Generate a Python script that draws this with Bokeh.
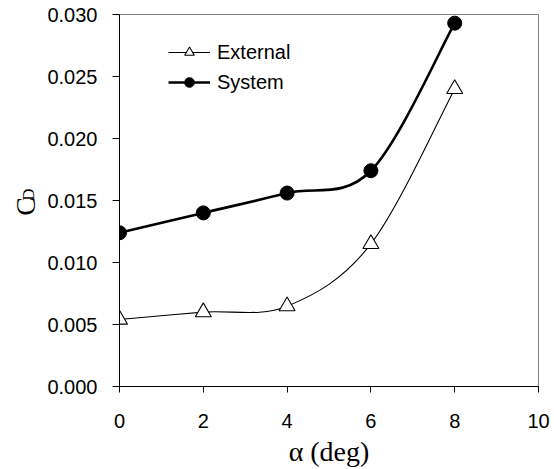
import math
from bokeh.plotting import figure
from bokeh.layouts import row
from bokeh.core.properties import value
from bokeh.models import (FixedTicker, NumeralTickFormatter, Legend, LegendItem,
                          Range1d)
from bokeh.embed import file_html
from bokeh.resources import INLINE

# ---- data ----
alpha = [0, 2, 4, 6, 8]
external_cd = [0.0054, 0.0060, 0.00648, 0.0115, 0.0240]
system_cd = [0.0124, 0.0140, 0.0156, 0.0174, 0.0293]
x_ticks = [0, 2, 4, 6, 8, 10]
y_ticks = [0.000, 0.005, 0.010, 0.015, 0.020, 0.025, 0.030]
series_names = ["External", "System"]
X_MAX, Y_MAX = 10, 0.030


def smooth_segments(xs, ys):
    """Bezier control points (Catmull-Rom style, like a spreadsheet's smoothed line)."""
    n = len(xs)
    out = dict(x0=[], y0=[], x1=[], y1=[], cx0=[], cy0=[], cx1=[], cy1=[])
    for i in range(n - 1):
        a = i - 1 if i > 0 else i
        d = i + 2 if i + 2 < n else i + 1
        out["x0"].append(xs[i]); out["y0"].append(ys[i])
        out["x1"].append(xs[i + 1]); out["y1"].append(ys[i + 1])
        out["cx0"].append(xs[i] + (xs[i + 1] - xs[a]) / 6.0)
        out["cy0"].append(ys[i] + (ys[i + 1] - ys[a]) / 6.0)
        out["cx1"].append(xs[i + 1] - (xs[d] - xs[i]) / 6.0)
        out["cy1"].append(ys[i + 1] - (ys[d] - ys[i]) / 6.0)
    return out


H = 469
LW = 40                      # strip that carries the y-axis title
W = 554 - LW
BL, BR, BT, BB = 119 - LW, 16, 14, 78

# ---- strip with the y-axis title (C with subscript D), pixel coordinates (y up) ----
lab = figure(width=LW, height=H, output_backend="svg", toolbar_location=None,
             title=None, x_range=Range1d(0, LW), y_range=Range1d(0, H),
             x_axis_type=None, y_axis_type=None,
             min_border_left=0, min_border_right=0, min_border_top=0, min_border_bottom=0)
lab.outline_line_color = None
lab.grid.visible = False
lab.background_fill_color = "white"
lab.border_fill_color = "white"
lab.text(x=[25.0], y=[H - 242.0], text=["C"], angle=math.pi / 2,
         text_align="center", text_baseline="middle",
         text_font=value("Liberation Serif"), text_font_size="28px", text_color="black")
lab.text(x=[27.5], y=[H - 227.0], text=["D"], angle=math.pi / 2,
         text_align="center", text_baseline="middle",
         text_font=value("Liberation Serif"), text_font_size="17px", text_color="black")

# ---- main chart ----
p = figure(width=W, height=H, output_backend="svg", toolbar_location=None,
           x_range=Range1d(0, X_MAX), y_range=Range1d(0, Y_MAX),
           min_border_left=BL, min_border_right=BR, min_border_top=BT,
           min_border_bottom=BB)
p.background_fill_color = "white"
p.border_fill_color = "white"
p.outline_line_color = "#808080"
p.outline_line_width = 1
p.xgrid.visible = False
p.ygrid.visible = False

p.xaxis.ticker = FixedTicker(ticks=x_ticks)
p.yaxis.ticker = FixedTicker(ticks=y_ticks)
p.yaxis.formatter = NumeralTickFormatter(format="0.000")
for ax in (p.xaxis[0], p.yaxis[0]):
    ax.axis_line_color = "black"
    ax.axis_line_width = 1
    ax.major_tick_line_color = "black"
    ax.major_tick_in = 0
    ax.minor_tick_line_color = None
    ax.major_label_text_font = "Liberation Sans"
    ax.major_label_text_font_size = "20px"
    ax.major_label_text_color = "black"
p.yaxis.major_tick_out = 7
p.xaxis.major_tick_out = 6
p.yaxis.major_label_standoff = 15
p.xaxis.major_label_standoff = 21
p.xaxis.axis_label = "α (deg)"
p.xaxis.axis_label_text_font = "Liberation Serif"
p.xaxis.axis_label_text_font_style = "normal"
p.xaxis.axis_label_text_font_size = "28px"
p.xaxis.axis_label_text_color = "black"
p.xaxis.axis_label_standoff = 5

# smoothed lines
ext_seg = smooth_segments(alpha, external_cd)
sys_seg = smooth_segments(alpha, system_cd)
ext_line = p.bezier(source=ext_seg, x0="x0", y0="y0", x1="x1", y1="y1",
                    cx0="cx0", cy0="cy0", cx1="cx1", cy1="cy1",
                    line_color="black", line_width=1.1)
sys_line = p.bezier(source=sys_seg, x0="x0", y0="y0", x1="x1", y1="y1",
                    cx0="cx0", cy0="cy0", cx1="cx1", cy1="cy1",
                    line_color="black", line_width=2.6)

ext_pts = p.scatter(alpha, external_cd, marker="triangle", size=16,
                    fill_color="white", line_color="black", line_width=1.1)
sys_pts = p.scatter(alpha, system_cd, marker="circle", size=14,
                    fill_color="black", line_color="black", line_width=1)

legend = Legend(items=[LegendItem(label=series_names[0], renderers=[ext_line, ext_pts]),
                       LegendItem(label=series_names[1], renderers=[sys_line, sys_pts])],
                location=(49, 292), orientation="vertical",
                glyph_width=42, glyph_height=24, label_height=24, label_standoff=7,
                spacing=6, padding=0, margin=0,
                label_text_font="Liberation Sans", label_text_font_size="20px",
                label_text_color="black",
                border_line_alpha=0, background_fill_alpha=0)
p.add_layout(legend)

layout = row(lab, p, spacing=0)
open("out.html", "w").write(file_html(layout, INLINE))
